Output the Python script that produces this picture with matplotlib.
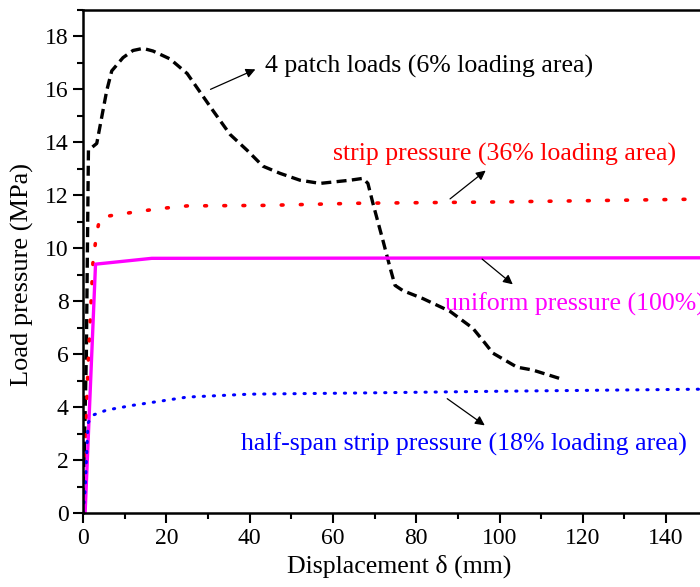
import matplotlib.pyplot as plt
from matplotlib.ticker import MultipleLocator

plt.rcParams['font.family'] = ['Liberation Serif', 'DejaVu Serif']

# 4 patch loads (6% loading area)
patch_x = [0, 0.8, 1.3, 3.3, 5.7, 6.9, 9.6, 12.0, 14.4, 16.8, 20.9, 25.0, 28.1, 31.2,
           35.3, 39.4, 43.2, 47.3, 52.1, 56.9, 61.7, 64.1, 67.2, 68.4, 69.6, 72.0,
           73.7, 74.9, 76.8, 81.6, 88.1, 93.6, 96.5, 98.4, 104.2, 108.0, 114.9]
patch_y = [0, 6.0, 13.7, 13.96, 15.96, 16.7, 17.2, 17.47, 17.55, 17.45, 17.15, 16.6, 15.9, 15.2,
           14.3, 13.7, 13.1, 12.83, 12.57, 12.45, 12.53, 12.57, 12.64, 12.45, 11.7, 10.3,
           9.28, 8.6, 8.4, 8.1, 7.62, 6.98, 6.42, 6.04, 5.51, 5.40, 5.06]

# strip pressure (36% loading area)
strip_x = [0, 1.2, 2.4, 3.3, 4.1, 12.0, 18.5, 25.0, 44.0, 66.0, 100.0, 145.0, 150.0]
strip_y = [0, 5.5, 9.5, 10.6, 11.17, 11.36, 11.5, 11.6, 11.62, 11.7, 11.75, 11.85, 11.85]

# uniform pressure (100%)
unif_x = [0, 0.5, 3.0, 16.5, 150.0]
unif_y = [0, 0, 9.4, 9.62, 9.64]

# half-span strip pressure (18% loading area)
half_x = [0, 0.5, 1.2, 2.4, 5.7, 12.0, 20.0, 25.0, 40.0, 64.0, 100.0, 150.0]
half_y = [0, 0.87, 3.4, 3.7, 3.89, 4.07, 4.26, 4.38, 4.49, 4.53, 4.6, 4.68]

fig = plt.figure(figsize=(7, 5.87), dpi=100)
ax = fig.add_axes([0.1186, 0.126, 0.8925, 0.857])

ax.plot(patch_x, patch_y, color='black', lw=2.4, dashes=(3, 1.6))
ax.plot(strip_x, strip_y, color='red', lw=2.6, linestyle=(0, (0.5, 4.8)),
        dash_capstyle='round')
ax.plot(unif_x, unif_y, color='magenta', lw=2.4)
ax.plot(half_x, half_y, color='blue', lw=2.2, linestyle=(0, (0.4, 2.9)),
        dash_capstyle='round')

arrow = dict(arrowstyle='-|>', color='black', lw=0.9, mutation_scale=14)
ax.annotate('', xy=(42, 16.8), xytext=(30, 15.96), arrowprops=arrow)
ax.annotate('', xy=(97.2, 13.0), xytext=(87.6, 11.8), arrowprops=arrow)
ax.annotate('', xy=(103.7, 8.57), xytext=(95.3, 9.66), arrowprops=arrow)
ax.annotate('', xy=(97, 3.25), xytext=(86.9, 4.38), arrowprops=arrow)

ax.text(43.7, 16.85, '4 patch loads (6% loading area)', fontsize=18.6,
        color='black', va='center', ha='left')
ax.text(60, 13.55, 'strip pressure (36% loading area)', fontsize=18.6,
        color='red', va='center', ha='left')
# cut off at the right edge, as in the original figure
ax.text(86.9, 7.9, 'uniform pressure (100%)', fontsize=18.6,
        color='magenta', va='center', ha='left')
ax.text(37.9, 2.6, 'half-span strip pressure (18% loading area)', fontsize=18.6,
        color='blue', va='center', ha='left')

ax.set_xlim(0, 150)
ax.set_ylim(0, 19)
ax.xaxis.set_major_locator(MultipleLocator(20))
ax.xaxis.set_minor_locator(MultipleLocator(10))
ax.yaxis.set_major_locator(MultipleLocator(2))
ax.yaxis.set_minor_locator(MultipleLocator(1))
ax.tick_params(which='major', direction='out', length=7, width=1.5, labelsize=17)
ax.tick_params(which='minor', direction='out', length=4, width=1.5)
ax.tick_params(top=False, right=False, which='both')
for s in ['left', 'bottom', 'top']:
    ax.spines[s].set_linewidth(1.8)
ax.spines['right'].set_visible(False)

ax.set_xlabel('Displacement δ (mm)', fontsize=18.6)
ax.set_ylabel('Load pressure (MPa)', fontsize=19)
ax.xaxis.set_label_coords(0.506, -0.083)
ax.yaxis.set_label_coords(-0.078, 0.475)

fig.savefig('out.png', dpi=100)
